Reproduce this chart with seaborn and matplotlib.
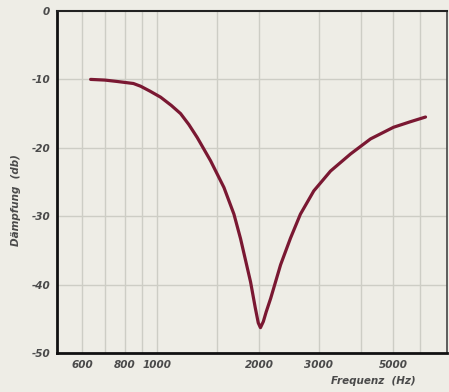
import numpy as np
import pandas as pd
import matplotlib
matplotlib.use("Agg")
import matplotlib.pyplot as plt
import seaborn as sns

# Data
freq_hz = [635, 700, 760, 850, 893, 950, 1023, 1100, 1172, 1240, 1313, 1438,
           1575, 1686, 1764, 1888, 1950, 1990, 2020, 2060, 2100, 2166, 2317,
           2479, 2652, 2905, 3256, 3732, 4276, 5000, 5600, 6220]
damping_db = [-10.0, -10.1, -10.3, -10.6, -11.0, -11.7, -12.6, -13.8, -15.0,
              -16.6, -18.5, -21.9, -25.8, -29.7, -33.3, -39.6, -43.4, -45.6,
              -46.3, -45.4, -44.0, -42.0, -37.1, -33.2, -29.7, -26.3, -23.4,
              -20.9, -18.7, -17.0, -16.2, -15.5]
grid_freqs = [600, 700, 800, 900, 1000, 1500, 2000, 3000, 4000, 5000, 6000]
xtick_vals = [600, 800, 1000, 2000, 3000, 5000]
ytick_vals = [0, -10, -20, -30, -40, -50]

df = pd.DataFrame({"f": freq_hz, "d": damping_db})

sns.set_style("white")
plt.rcParams["font.family"] = ["DejaVu Sans"]

paper = "#eeede6"
fig = plt.figure(figsize=(4.49, 3.92), dpi=100, facecolor=paper)
ax = fig.add_axes([57 / 449, 1 - 353 / 392, (447 - 57) / 449, (353 - 11) / 392])
ax.set_facecolor(paper)

ax.set_xscale("log")
ax.set_xlim(505, 7200)
ax.set_ylim(-50, 0)

for g in grid_freqs:
    ax.axvline(g, color="#cdcdc5", lw=1.0, zorder=0)
for yv in ytick_vals[1:-1]:
    ax.axhline(yv, color="#cdcdc5", lw=1.0, zorder=0)

sns.lineplot(data=df, x="f", y="d", ax=ax, color="#7a1832", lw=2.3,
             solid_capstyle="round", solid_joinstyle="round", zorder=3)

ax.set_xticks(xtick_vals)
ax.set_xticklabels([str(v) for v in xtick_vals])
ax.xaxis.set_minor_locator(matplotlib.ticker.NullLocator())
ax.set_yticks(ytick_vals)
ax.set_yticklabels(["0"] + ["-%d" % abs(v) for v in ytick_vals[1:]])
ax.tick_params(axis="both", length=2, width=1, color="#333333",
               labelsize=7.5, labelcolor="#4a4a4a", pad=3)
for lab in ax.get_xticklabels() + ax.get_yticklabels():
    lab.set_fontstyle("italic")
    lab.set_fontweight("bold")

ax.set_xlabel("")
ax.set_ylabel("")
fig.text(373 / 449, 1 - 381 / 392, "Frequenz  (Hz)", ha="center", va="center",
         fontsize=7.5, style="italic", color="#4a4a4a", fontweight="bold")
fig.text(16 / 449, 1 - 200 / 392, "Dämpfung  (db)", ha="center", va="center",
         rotation=90, fontsize=7.5, style="italic", color="#4a4a4a",
         fontweight="bold")

for side in ["left", "bottom"]:
    ax.spines[side].set_linewidth(2.0)
    ax.spines[side].set_color("#111111")
ax.spines["top"].set_linewidth(1.5)
ax.spines["top"].set_color("#222222")
ax.spines["right"].set_linewidth(1.2)
ax.spines["right"].set_color("#444444")

fig.savefig("out.png", dpi=100, facecolor=paper)
